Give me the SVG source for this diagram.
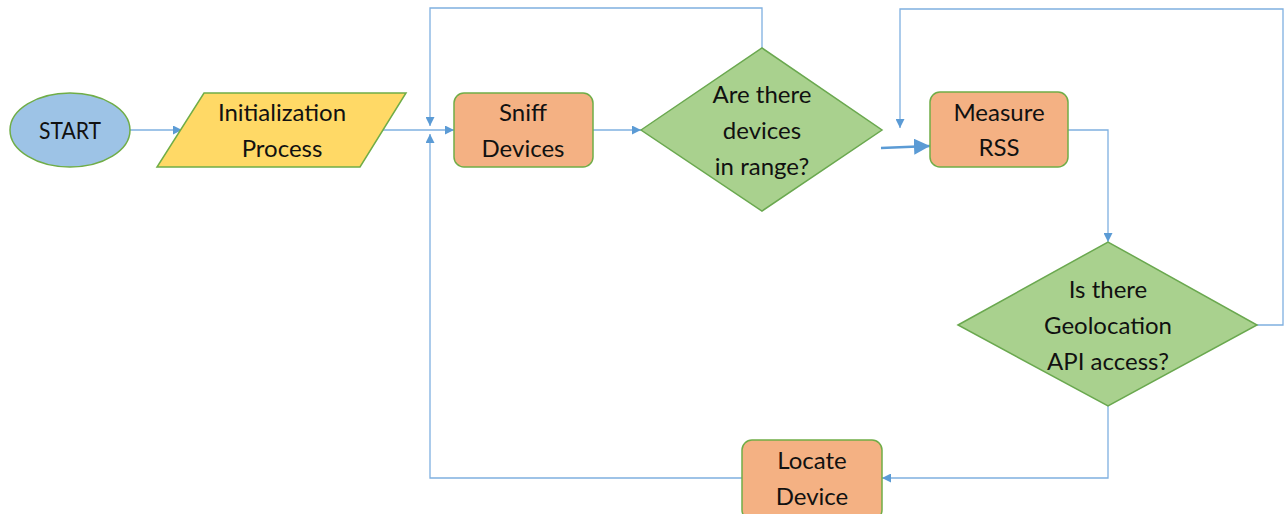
<svg xmlns="http://www.w3.org/2000/svg" width="1285" height="514" viewBox="0 0 1285 514">
<style>
.t{font-family:Lato,"Open Sans",sans-serif;font-size:24px;fill:#111;text-anchor:middle;dominant-baseline:central}
.c{fill:none;stroke:#7FB0E0;stroke-width:1.3}
.k{fill:none;stroke:#5B9BD5;stroke-width:2.5}
.box{fill:#F4B183;stroke:#70AD47;stroke-width:1.5}
.dia{fill:#A9D18E;stroke:#6AA84F;stroke-width:1.5}
</style>
<defs>
<marker id="a" viewBox="0 0 10 10" refX="10" refY="5" markerWidth="9" markerHeight="9" markerUnits="userSpaceOnUse" orient="auto"><path d="M0,0L10,5L0,10z" fill="#5B9BD5"/></marker>
<marker id="b" viewBox="0 0 10 10" refX="10" refY="5" markerWidth="16" markerHeight="16" markerUnits="userSpaceOnUse" orient="auto"><path d="M0,0L10,5L0,10z" fill="#5B9BD5"/></marker>
</defs>
<rect width="1285" height="514" fill="#fff"/>
<g id="connectors">
<path class="c" d="M130,130H182" marker-end="url(#a)"/>
<path class="c" d="M383,130H454" marker-end="url(#a)"/>
<path class="c" d="M593,130H641" marker-end="url(#a)"/>
<path class="c" d="M762,48V8H430V126" marker-end="url(#a)"/>
<path class="k" d="M881,148L930,146" marker-end="url(#b)"/>
<path class="c" d="M1068,130H1108V242" marker-end="url(#a)"/>
<path class="c" d="M1257,325H1283V9H900V128" marker-end="url(#a)"/>
<path class="c" d="M1108,406V478H882" marker-end="url(#a)"/>
<path class="c" d="M742,478H430V134" marker-end="url(#a)"/>
</g>
<g id="start">
<ellipse cx="70" cy="130" rx="60" ry="37" fill="#9DC3E6" stroke="#70AD47" stroke-width="1.5"/>
<text class="t" x="70" y="129" textLength="62" lengthAdjust="spacingAndGlyphs">START</text>
</g>
<g id="init">
<polygon points="204,93 406,93 360,167 157,167" fill="#FFD966" stroke="#70AD47" stroke-width="1.5"/>
<text class="t" x="282" y="111">Initialization</text>
<text class="t" x="282" y="147">Process</text>
</g>
<g id="sniff">
<rect class="box" x="454" y="93" width="139" height="74" rx="10"/>
<text class="t" x="523" y="111">Sniff</text>
<text class="t" x="523" y="147">Devices</text>
</g>
<g id="range">
<polygon class="dia" points="641,130 762,48 882,130 762,211"/>
<text class="t" x="762" y="93">Are there</text>
<text class="t" x="762" y="129">devices</text>
<text class="t" x="762" y="165">in range?</text>
</g>
<g id="measure">
<rect class="box" x="930" y="92" width="138" height="75" rx="10"/>
<text class="t" x="999" y="111">Measure</text>
<text class="t" x="999" y="146">RSS</text>
</g>
<g id="geo">
<polygon class="dia" points="958,325 1108,242 1257,325 1108,406"/>
<text class="t" x="1108" y="288">Is there</text>
<text class="t" x="1108" y="324">Geolocation</text>
<text class="t" x="1108" y="360">API access?</text>
</g>
<g id="locate">
<rect class="box" x="742" y="440" width="140" height="80" rx="10"/>
<text class="t" x="812" y="459">Locate</text>
<text class="t" x="812" y="495">Device</text>
</g>
</svg>
